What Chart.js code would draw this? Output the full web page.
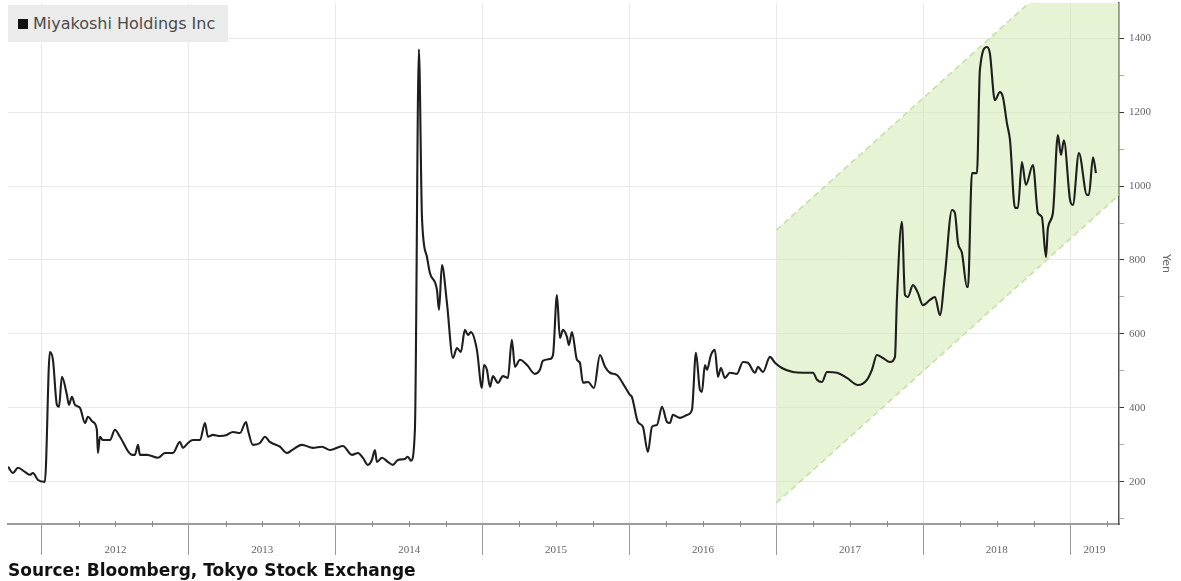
<!DOCTYPE html>
<html><head><meta charset="utf-8">
<script src="https://cdn.jsdelivr.net/npm/chart.js@4.4.0/dist/chart.umd.min.js"></script>
<style>
html,body{margin:0;padding:0;background:#fff;}
#wrap{position:relative;width:1181px;height:581px;overflow:hidden;background:#fff;}
#c{position:absolute;left:0;top:0;}
#legend{position:absolute;left:8px;top:5px;width:220px;height:37px;background:#ebebeb;font-family:"DejaVu Sans";font-size:16px;color:#4a4a4a;line-height:37px;box-sizing:border-box;padding-left:10px;white-space:nowrap;}
#legend .sw{display:inline-block;width:10px;height:10px;background:#111;margin-right:5px;}
#source{position:absolute;left:8px;top:560px;font-family:"DejaVu Sans";font-weight:bold;font-size:17px;color:#111;white-space:nowrap;}
</style></head>
<body>
<div id="wrap">
<canvas id="c" width="1181" height="581"></canvas>
<div id="legend"><span class="sw"></span>Miyakoshi Holdings Inc</div>
<div id="source">Source: Bloomberg, Tokyo Stock Exchange</div>
</div>
<script>
// ---- data ----
const seriesName = 'Miyakoshi Holdings Inc';
const priceDates = [
2011.769,2011.803,2011.837,2011.884,2011.918,2011.939,2011.973,2012.020,2012.054,2012.075,
2012.102,2012.116,2012.136,2012.170,2012.184,2012.204,2012.225,2012.259,2012.293,2012.313,
2012.347,2012.374,2012.381,2012.395,2012.415,2012.463,2012.497,2012.531,2012.613,2012.633,
2012.654,2012.667,2012.715,2012.790,2012.837,2012.892,2012.939,2012.960,2012.994,2013.028,
2013.076,2013.110,2013.130,2013.164,2013.212,2013.259,2013.300,2013.348,2013.389,2013.402,
2013.436,2013.484,2013.518,2013.552,2013.620,2013.668,2013.702,2013.770,2013.845,2013.906,
2013.961,2014.049,2014.110,2014.151,2014.185,2014.219,2014.246,2014.267,2014.280,2014.315,
2014.355,2014.389,2014.423,2014.471,2014.491,2014.512,2014.539,2014.566,2014.587,2014.621,
2014.641,2014.689,2014.703,2014.723,2014.757,2014.798,2014.825,2014.852,2014.879,2014.900,
2014.920,2014.961,2014.995,2015.009,2015.029,2015.050,2015.070,2015.104,2015.138,2015.172,
2015.199,2015.220,2015.254,2015.302,2015.356,2015.390,2015.410,2015.458,2015.479,2015.506,
2015.526,2015.547,2015.574,2015.587,2015.608,2015.642,2015.662,2015.683,2015.717,2015.758,
2015.799,2015.833,2015.867,2015.914,2015.969,2016.003,2016.016,2016.057,2016.091,2016.125,
2016.153,2016.187,2016.221,2016.255,2016.275,2016.295,2016.343,2016.391,2016.425,2016.452,
2016.479,2016.493,2016.513,2016.527,2016.554,2016.581,2016.602,2016.622,2016.649,2016.683,
2016.731,2016.772,2016.806,2016.854,2016.874,2016.908,2016.956,2016.990,2017.037,2017.112,
2017.180,2017.249,2017.276,2017.310,2017.344,2017.412,2017.480,2017.555,2017.616,2017.650,
2017.684,2017.725,2017.773,2017.807,2017.820,2017.854,2017.875,2017.895,2017.929,2017.963,
2017.997,2018.045,2018.079,2018.113,2018.147,2018.195,2018.215,2018.236,2018.263,2018.297,
2018.304,2018.331,2018.365,2018.385,2018.433,2018.453,2018.487,2018.521,2018.542,2018.569,
2018.590,2018.624,2018.644,2018.671,2018.698,2018.746,2018.780,2018.807,2018.835,2018.848,
2018.882,2018.916,2018.937,2018.957,2018.999,2019.018,2019.059,2019.114,2019.127,2019.155,
2019.175
];
const priceValues = [
241,224,238,227,219,224,205,200,551,530,
408,403,484,435,408,430,408,400,359,376,
362,341,278,322,313,313,341,322,273,273,
300,273,273,265,278,278,308,292,305,313,
313,359,322,327,324,327,335,332,362,341,
300,305,322,308,295,278,286,300,292,295,
286,297,273,278,265,246,259,286,254,265,
254,246,259,262,268,257,341,1370,916,808,
765,719,665,786,684,535,562,551,611,597,
605,557,454,516,503,457,486,468,486,481,
584,511,530,516,492,503,527,532,543,705,
589,611,592,570,605,530,522,468,470,454,
543,511,495,489,457,435,430,362,349,281,
349,354,403,362,359,381,373,381,395,549,
449,443,516,503,543,557,484,508,481,495,
492,524,522,495,511,497,538,522,508,497,
495,495,476,470,497,495,481,462,476,503,
543,535,524,538,692,903,705,700,732,711,
678,692,700,651,760,935,927,846,819,727,
727,1035,1035,1314,1376,1359,1232,1254,1240,1170,
1124,941,941,1065,1003,1057,927,916,808,886,
927,1138,1084,1124,962,949,1089,976,976,1078,
1035
];
// trend channel (green band)
const channelDates = [2017.0, 2019.332];
const channelLower = [143, 976];
const channelUpper = [881, 1714];
// axes
const xMin = 2011.769, xMax = 2019.332;
const yearBounds = [2012,2013,2014,2015,2016,2017,2018,2019];
const yearLabelPos = [2012.5,2013.5,2014.5,2015.5,2016.5,2017.5,2018.5,2019.166];
const yearLabels = ['2012','2013','2014','2015','2016','2017','2018','2019'];
const yMin = 86, yMax = 1495;
const yTickValues = [100,200,300,400,500,600,700,800,900,1000,1100,1200,1300,1400];
const yLabelValues = [200,400,600,800,1000,1200,1400];
const yTitle = 'Yen';

const toXY = (xs, ys) => xs.map((x,i)=>({x:x, y:ys[i]}));
const TR = 'rgba(0,0,0,0)';

const quarterMarks = {
  id:'quarterMarks',
  afterDraw(chart){
    const xs = chart.scales.x, ctx = chart.ctx;
    const yb = chart.chartArea.bottom;
    ctx.save();
    ctx.strokeStyle = '#8a8a8a'; ctx.lineWidth = 1;
    for (let q = Math.ceil(xMin*4)/4; q <= xMax; q += 0.25) {
      if (Number.isInteger(q)) continue;
      const px = Math.round(xs.getPixelForValue(q)) + 0.5;
      ctx.beginPath(); ctx.moveTo(px, yb-3); ctx.lineTo(px, yb+3); ctx.stroke();
    }
    ctx.restore();
  }
};

new Chart(document.getElementById('c'), {
  type:'line',
  data:{
    datasets:[
      {label:seriesName, data:toXY(priceDates, priceValues), borderColor:'#1e1e1e', borderWidth:2.1,
       pointRadius:0, cubicInterpolationMode:'monotone', fill:false, order:0},
      {label:'lower', data:toXY(channelDates, channelLower), borderColor:'#c6e0a6', borderWidth:1.6,
       borderDash:[6,4], pointRadius:0, fill:false, order:1},
      {label:'upper', data:toXY(channelDates, channelUpper), borderColor:'#c6e0a6', borderWidth:1.6,
       borderDash:[6,4], pointRadius:0, fill:'-1', backgroundColor:'rgba(206,232,170,0.5)', order:2}
    ]
  },
  options:{
    responsive:false, animation:false,
    layout:{padding:{left:8, top:3, right:0, bottom:0}},
    plugins:{legend:{display:false}, tooltip:{enabled:false}},
    scales:{
      x:{
        type:'linear', position:'bottom', min:xMin, max:xMax,
        afterBuildTicks(s){ s.ticks = yearBounds.concat(yearLabelPos).sort((a,b)=>a-b).map(v=>({value:v})); },
        afterFit(s){ s.height = 57; s.paddingLeft = 0; s.paddingRight = 0; },
        ticks:{autoSkip:false, maxRotation:0, minRotation:0, padding:-11, color:'#666',
          font:{family:'Liberation Serif', size:11},
          callback:(v)=>{ const i = yearLabelPos.indexOf(v); return i>=0 ? yearLabels[i] : ''; }},
        grid:{
          color:(c)=> (c.tick && yearBounds.includes(c.tick.value)) ? '#e9e9e9' : TR,
          tickColor:(c)=> (c.tick && yearBounds.includes(c.tick.value)) ? '#9a9a9a' : TR,
          tickLength:31, lineWidth:1
        },
        border:{color:'#9c9c9c', width:2}
      },
      y:{
        type:'linear', position:'right', min:yMin, max:yMax,
        afterBuildTicks(s){ s.ticks = yTickValues.map(v=>({value:v})); },
        afterFit(s){ s.width = 62; s.paddingTop = 0; s.paddingBottom = 0; },
        ticks:{autoSkip:false, padding:5, color:'#666', font:{family:'Liberation Serif', size:11},
          callback:(v)=> yLabelValues.includes(v) ? String(v) : ''},
        grid:{
          color:(c)=> (c.tick && yLabelValues.includes(c.tick.value)) ? '#e9e9e9' : TR,
          tickColor:(c)=> (c.tick && yLabelValues.includes(c.tick.value)) ? '#333' : '#aaa',
          tickLength:5, lineWidth:1
        },
        border:{color:'#555', width:1.5},
        title:{display:true, text:yTitle, color:'#666', font:{family:'DejaVu Sans', size:11}, padding:{top:9, bottom:0}}
      }
    }
  },
  plugins:[quarterMarks]
});
</script>
</body></html>
